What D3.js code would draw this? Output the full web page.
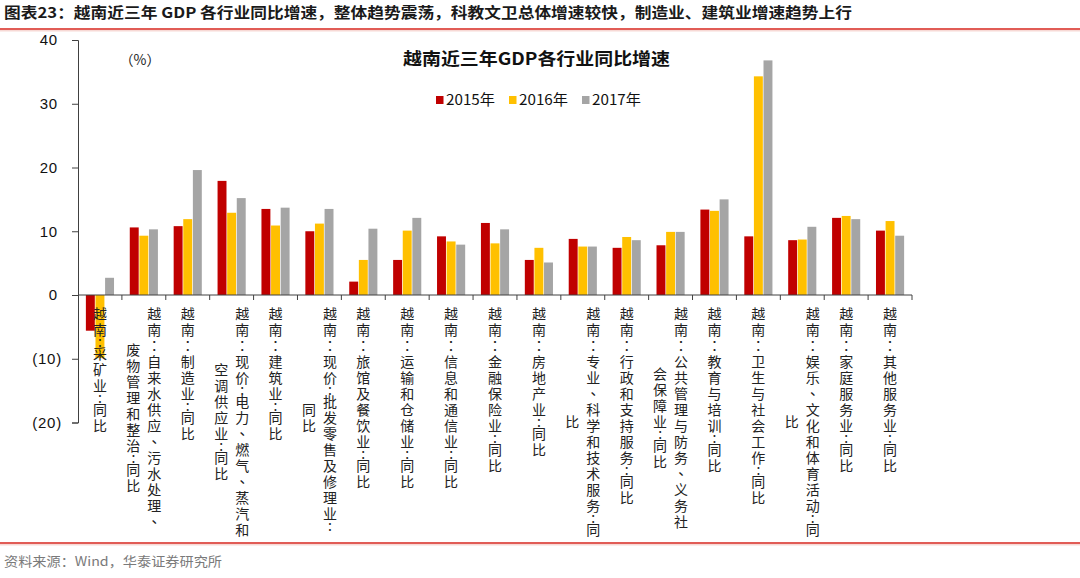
<!DOCTYPE html>
<html><head><meta charset="utf-8">
<script src="https://cdn.jsdelivr.net/npm/d3@7"></script>
<style>body{margin:0;background:#fff;} svg{display:block}</style>
</head><body>
<svg id="c" width="1080" height="578"></svg>
<script>
// ---- data ----
const categoryLines = [
  ["越南:采矿业:同比"],
  ["越南：自来水供应、污水处理、", "废物管理和整治:同比"],
  ["越南：制造业:同比"],
  ["越南：现价:电力、燃气、蒸汽和", "空调供应业:同比"],
  ["越南：建筑业:同比"],
  ["越南：现价:批发零售及修理业:", "同比"],
  ["越南：旅馆及餐饮业:同比"],
  ["越南：运输和仓储业:同比"],
  ["越南：信息和通信业:同比"],
  ["越南：金融保险业:同比"],
  ["越南：房地产业:同比"],
  ["越南：专业、科学和技术服务:同", "比"],
  ["越南：行政和支持服务:同比"],
  ["越南：公共管理与防务、义务社", "会保障业:同比"],
  ["越南：教育与培训:同比"],
  ["越南：卫生与社会工作:同比"],
  ["越南：娱乐、文化和体育活动:同", "比"],
  ["越南：家庭服务业:同比"],
  ["越南：其他服务业:同比"]
];
const categories = categoryLines.map(l => l.join(""));
const series = ["2015年", "2016年", "2017年"];
const values2015 = [-5.6, 10.6, 10.8, 17.9, 13.5, 10.0, 2.1, 5.5, 9.2, 11.3, 5.5, 8.8, 7.4, 7.8, 13.4, 9.2, 8.6, 12.1, 10.1];
const values2016 = [-9.9, 9.3, 11.9, 12.9, 10.9, 11.2, 5.5, 10.1, 8.4, 8.1, 7.4, 7.6, 9.1, 9.9, 13.2, 34.3, 8.7, 12.4, 11.6];
const values2017 = [2.7, 10.3, 19.6, 15.2, 13.7, 13.5, 10.4, 12.1, 7.9, 10.3, 5.1, 7.6, 8.6, 9.9, 15.0, 36.8, 10.7, 11.9, 9.3];
const seriesValues = [values2015, values2016, values2017];
const yTicks = [-20, -10, 0, 10, 20, 30, 40];
const pageTitle = "图表23：越南近三年 GDP 各行业同比增速，整体趋势震荡，科教文卫总体增速较快，制造业、建筑业增速趋势上行";
const chartTitle = "越南近三年GDP各行业同比增速";
const unitLabel = "（%）";
const sourceText = "资料来源：Wind，华泰证券研究所";

// ---- styles ----
const colors = ["#C00000", "#FFC000", "#A5A5A5"];
const cjk = "'Noto Sans CJK SC', sans-serif";
const latin = "'Liberation Sans', Arial, sans-serif";

const svg = d3.select("#c");
const M = {left: 78, right: 912, top: 40, bottom: 422.5};

const x0 = d3.scaleBand().domain(categories).range([M.left, M.right]);
const x1 = d3.scaleBand().domain(series).range([0, x0.bandwidth()]).paddingInner(0.07).paddingOuter(0.82);
const y = d3.scaleLinear().domain([-20, 40]).range([M.bottom, M.top]);

// header
svg.append("text").attr("x", 4).attr("y", 18)
  .attr("font-family", cjk).attr("font-weight", "bold").attr("font-size", 15)
  .attr("fill", "#1a1a1a").attr("textLength", 848).attr("lengthAdjust", "spacingAndGlyphs")
  .text(pageTitle);
svg.append("line").attr("x1", 0).attr("x2", 1080).attr("y1", 29).attr("y2", 29)
  .attr("stroke", "#D7261E").attr("stroke-width", 1.6);
svg.append("line").attr("x1", 0).attr("x2", 1080).attr("y1", 30.8).attr("y2", 30.8)
  .attr("stroke", "#F7D9D5").attr("stroke-width", 1.5);

// bars
const g = svg.append("g");
series.forEach((s, si) => {
  g.append("g").selectAll("rect").data(categories).join("rect")
    .attr("x", c => x0(c) + x1(s))
    .attr("width", x1.bandwidth())
    .attr("y", (c, i) => y(Math.max(0, seriesValues[si][i])))
    .attr("height", (c, i) => Math.abs(y(seriesValues[si][i]) - y(0)))
    .attr("fill", colors[si]);
});

// y axis
const yAxis = svg.append("g").attr("transform", `translate(${M.left},0)`)
  .call(d3.axisLeft(y).tickValues(yTicks).tickSize(6).tickPadding(10)
    .tickFormat(d => d < 0 ? `(${-d})` : `${d}`));
yAxis.select(".domain").attr("stroke", "#404040");
yAxis.selectAll(".tick line").attr("stroke", "#404040");
yAxis.selectAll(".tick text")
  .attr("font-family", latin).attr("font-size", 15).attr("fill", "#111")
  .attr("letter-spacing", 0.8)
  .attr("dx", d => d < 0 ? 0 : -4);

// x axis line + ticks at band boundaries
const xAx = svg.append("g");
xAx.append("line").attr("x1", M.left).attr("x2", M.right).attr("y1", y(0)).attr("y2", y(0))
  .attr("stroke", "#404040");
const bounds = categories.map(c => x0(c)).concat([x0.range()[1]]);
xAx.selectAll("line.t").data(bounds.slice(1)).join("line").attr("class", "t")
  .attr("x1", d => d).attr("x2", d => d).attr("y1", y(0)).attr("y2", y(0) + 5)
  .attr("stroke", "#404040");

// category labels (vertical, column wrapped right-to-left, columns centred on the longest)
const step = 16, labelTop = 305;
function charH(ch) { return ch === ":" ? 0.5 * step : step; }
const lab = svg.append("g").attr("font-family", cjk).attr("font-size", 14).attr("fill", "#222");
categoryLines.forEach((cols, ci) => {
  const cx = x0(categories[ci]) + x0.bandwidth() / 2;
  const lens = cols.map(col => Array.from(col).reduce((a, ch) => a + charH(ch), 0));
  const Lmax = d3.max(lens);
  const colGap = 21;
  cols.forEach((col, k) => {
    const colX = cx + ((cols.length - 1) / 2 - k) * colGap;
    let yy = labelTop + (Lmax - lens[k]) / 2;
    Array.from(col).forEach(ch => {
      const h = charH(ch);
      const t = lab.append("text").attr("x", colX).attr("y", yy + h / 2)
        .attr("text-anchor", "middle").attr("dominant-baseline", "central").text(ch);
      if (ch === "：" || ch === "、") t.attr("font-family", "'Noto Sans CJK TC', sans-serif");
      yy += h;
    });
  });
});

// chart title
svg.append("text").attr("x", 536.5).attr("y", 65).attr("text-anchor", "middle")
  .attr("font-family", cjk).attr("font-weight", "bold").attr("font-size", 17)
  .attr("fill", "#111").attr("textLength", 267).attr("lengthAdjust", "spacingAndGlyphs")
  .text(chartTitle);

// unit label
svg.append("text").attr("x", 140).attr("y", 65).attr("text-anchor", "middle")
  .attr("font-family", cjk).attr("font-size", 14).attr("fill", "#222").text(unitLabel);

// legend
const lx = d3.scaleBand().domain(series).range([436, 655]);
const leg = svg.append("g").selectAll("g").data(series).join("g")
  .attr("transform", d => `translate(${lx(d)},96)`);
leg.append("rect").attr("width", 7.5).attr("height", 8).attr("fill", (d, i) => colors[i]);
leg.append("text").attr("x", 10).attr("y", 8.5)
  .attr("font-family", cjk).attr("font-size", 14.5).attr("fill", "#111")
  .attr("textLength", 49).attr("lengthAdjust", "spacingAndGlyphs").text(d => d);

// bottom rule + source
svg.append("line").attr("x1", 0).attr("x2", 1080).attr("y1", 543).attr("y2", 543)
  .attr("stroke", "#D7261E").attr("stroke-width", 1.6);
svg.append("line").attr("x1", 0).attr("x2", 1080).attr("y1", 544.8).attr("y2", 544.8)
  .attr("stroke", "#F7D9D5").attr("stroke-width", 1.5);
svg.append("text").attr("x", 4).attr("y", 566)
  .attr("font-family", cjk).attr("font-size", 13).attr("fill", "#7a7a7a")
  .attr("textLength", 218).attr("lengthAdjust", "spacingAndGlyphs").text(sourceText);
</script>
</body></html>
